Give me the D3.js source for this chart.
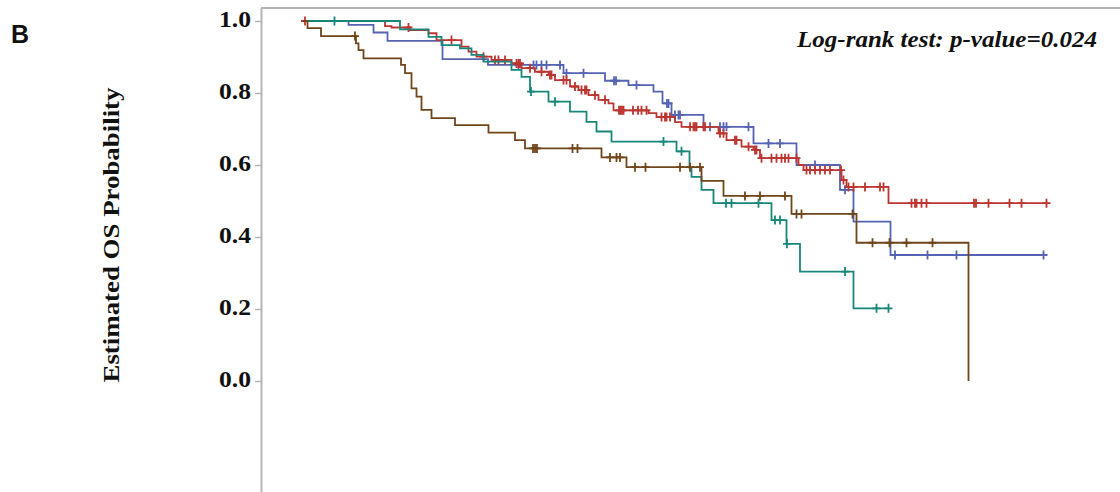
<!DOCTYPE html>
<html>
<head>
<meta charset="utf-8">
<script src="https://cdn.jsdelivr.net/npm/d3@7"></script>
<style>
  body { margin: 0; background: #fff; }
  svg { display: block; }
</style>
</head>
<body>
<svg id="drawing_region"></svg>
<script>
// groups (in drawing order)
const groups = ['group1', 'group2', 'group3', 'group4'];

// event times (months) and KM estimate just after each event
const times1 = [9.1, 14.1, 16.9, 27.9, 37.0, 52.1, 60.4, 65.1, 70.1, 71.9, 73.7, 80.1, 90.1, 98.7, 107.4, 110.1, 117.5];
const surv1  = [0.989, 0.968, 0.945, 0.894, 0.878, 0.855, 0.834, 0.822, 0.804, 0.771, 0.739, 0.706, 0.660, 0.600, 0.531, 0.4425, 0.35];
const cens1  = [43.1, 46.1, 46.7, 47.7, 48.7, 51.4, 52.7, 56.1, 62.2, 62.6, 66.7, 72.8, 73.1, 74.4, 75.1, 75.4, 81.4, 83.4, 84.1, 84.7, 89.1, 93.1, 95.4, 102.4, 108.4, 118.4, 124.9, 130.7, 148.1];

const times2 = [16.4, 17.7, 21.4, 25.1, 26.7, 31.7, 33.1, 34.7, 37.7, 41.7, 43.7, 46.4, 49.1, 50.4, 53.4, 55.1, 57.1, 59.1, 61.1, 62.1, 69.1, 70.7, 74.4, 75.7, 83.1, 84.7, 87.7, 90.1, 91.4, 99.1, 100.1, 107.7, 108.7, 117.1];
const surv2  = [0.986, 0.982, 0.975, 0.966, 0.947, 0.929, 0.915, 0.901, 0.892, 0.882, 0.869, 0.859, 0.850, 0.836, 0.818, 0.808, 0.794, 0.781, 0.771, 0.752, 0.744, 0.733, 0.719, 0.706, 0.688, 0.669, 0.651, 0.642, 0.619, 0.600, 0.586, 0.558, 0.539, 0.494];
const cens2  = [0.4, 21.1, 29.7, 36.1, 38.4, 39.1, 40.4, 42.7, 43.1, 43.4, 45.4, 47.7, 49.4, 49.7, 52.1, 52.7, 54.4, 55.7, 56.4, 56.7, 58.4, 60.4, 63.2, 63.5, 63.8, 64.1, 66.0, 67.0, 67.7, 68.7, 71.7, 72.4, 72.7, 73.4, 77.4, 78.1, 78.4, 78.7, 80.1, 80.4, 83.4, 84.1, 86.4, 86.7, 89.1, 90.4, 90.7, 91.7, 93.7, 94.7, 95.7, 96.4, 97.1, 98.7, 100.7, 101.4, 102.4, 103.4, 104.4, 105.4, 107.6, 108.1, 109.1, 110.1, 112.4, 115.4, 116.1, 121.7, 122.4, 122.7, 123.7, 124.7, 134.2, 134.6, 137.1, 141.3, 143.7, 148.7];

const times3 = [19.4, 25.1, 27.7, 31.4, 33.7, 36.1, 41.7, 43.7, 45.4, 49.1, 53.4, 56.7, 58.7, 61.7, 74.7, 77.3, 77.7, 79.7, 82.1, 93.7, 96.7, 99.4, 110.1];
const surv3  = [0.977, 0.956, 0.933, 0.924, 0.906, 0.887, 0.864, 0.845, 0.804, 0.776, 0.748, 0.720, 0.693, 0.665, 0.638, 0.592, 0.567, 0.531, 0.494, 0.447, 0.381, 0.304, 0.202];
const cens3  = [6.3, 45.6, 50.4, 72.1, 75.7, 84.6, 85.7, 91.1, 94.4, 95.4, 96.8, 108.4, 114.7, 117.1];

const times4 = [0.9, 3.6, 10.6, 11.1, 12.1, 19.6, 20.4, 21.7, 22.7, 23.7, 25.7, 30.4, 37.1, 42.4, 44.4, 59.7, 64.7, 79.7, 84.1, 97.7, 110.7, 133.1];
const surv4  = [0.980, 0.958, 0.938, 0.919, 0.896, 0.878, 0.855, 0.813, 0.790, 0.753, 0.730, 0.711, 0.690, 0.669, 0.646, 0.621, 0.594, 0.556, 0.514, 0.464, 0.384, 0];
const cens4  = [10.4, 46.0, 46.4, 46.8, 53.9, 54.9, 61.4, 62.7, 63.4, 66.4, 68.5, 75.4, 77.4, 79.4, 88.4, 91.4, 96.4, 98.7, 99.7, 109.9, 113.9, 117.3, 120.7, 125.9];

const yTicks = [0.0, 0.2, 0.4, 0.6, 0.8, 1.0];
const pText = 'Log-rank test: p-value=0.024';

const colors = {
  group1: '#5463b3',
  group2: '#bc3530',
  group3: '#18877a',
  group4: '#704519'
};

class KMChart {
  constructor(config, data) {
    this.config = config;
    this.data = data;
    this.init();
  }

  init() {
    let self = this;
    self.svg = d3.select(self.config.parent)
      .attr('width', self.config.width)
      .attr('height', self.config.height);

    // y: 0 -> 381px, 1 -> 21px; axis runs from the top frame down past the picture edge
    self.yscale = d3.scaleLinear().domain([-0.3083, 1.0361]).range([492, 8]);
    self.xscale = d3.scaleLinear().domain([0, 150]).range([303, 1053]);

    self.line = d3.line()
      .x(d => self.xscale(d[0]))
      .y(d => self.yscale(d[1]))
      .curve(d3.curveStepAfter);

    self.render();
  }

  survAt(g, t) {
    const i = d3.bisectRight(g.times, t) - 1;
    return i < 0 ? 1 : g.surv[i];
  }

  render() {
    let self = this;
    const serif = '"Liberation Serif", "Times New Roman", serif';

    // top frame line
    self.svg.append('line')
      .attr('x1', 261).attr('x2', self.config.width)
      .attr('y1', 8).attr('y2', 8)
      .attr('stroke', '#b5b5b5').attr('stroke-width', 2);

    const yaxis = d3.axisLeft(self.yscale)
      .tickValues(yTicks)
      .tickFormat(d3.format('.1f'))
      .tickSize(6)
      .tickPadding(4)
      .tickSizeOuter(0);

    const ag = self.svg.append('g')
      .attr('transform', 'translate(261,0)')
      .call(yaxis);
    ag.select('.domain').attr('stroke', '#b5b5b5').attr('stroke-width', 2);
    ag.selectAll('.tick line').attr('stroke', '#b5b5b5').attr('stroke-width', 1.5);
    ag.selectAll('.tick text')
      .attr('font-family', serif)
      .attr('font-weight', 'bold')
      .attr('font-size', 23)
      .attr('textLength', 32)
      .attr('lengthAdjust', 'spacingAndGlyphs')
      .attr('dy', '0.22em')
      .attr('fill', '#111');

    // curves
    self.data.forEach(g => {
      const last = Math.max(d3.max(g.times), d3.max(g.cens));
      const pts = [[0, 1]];
      g.times.forEach((t, i) => pts.push([t, g.surv[i]]));
      if (last > d3.max(g.times)) pts.push([last, g.surv[g.surv.length - 1]]);

      self.svg.append('path')
        .datum(pts)
        .attr('d', self.line)
        .attr('fill', 'none')
        .attr('stroke', colors[g.name])
        .attr('stroke-width', 1.8);

      self.svg.append('g')
        .selectAll('path')
        .data(g.cens)
        .join('path')
        .attr('d', t => {
          const x = self.xscale(t), y = self.yscale(self.survAt(g, t));
          return `M${x},${y - 4.5}V${y + 4.5}M${x - 4},${y}H${x + 4}`;
        })
        .attr('stroke', colors[g.name])
        .attr('stroke-width', 1.8)
        .attr('fill', 'none');
    });

    // texts
    self.svg.append('text')
      .attr('x', 797).attr('y', 47)
      .attr('font-family', serif)
      .attr('font-weight', 'bold')
      .attr('font-style', 'italic')
      .attr('font-size', 23)
      .attr('textLength', 300)
      .attr('lengthAdjust', 'spacingAndGlyphs')
      .attr('fill', '#111')
      .text(pText);

    self.svg.append('text')
      .attr('transform', 'translate(119,235) rotate(-90)')
      .attr('text-anchor', 'middle')
      .attr('font-family', serif)
      .attr('font-weight', 'bold')
      .attr('font-size', 23)
      .attr('textLength', 295)
      .attr('lengthAdjust', 'spacingAndGlyphs')
      .attr('fill', '#111')
      .text('Estimated OS Probability');

    self.svg.append('text')
      .attr('x', 11).attr('y', 43)
      .attr('font-family', '"Liberation Sans", Arial, sans-serif')
      .attr('font-weight', 'bold')
      .attr('font-size', 25)
      .attr('fill', '#111')
      .text('B');
  }
}

const data = [
  { name: 'group1', times: times1, surv: surv1, cens: cens1 },
  { name: 'group2', times: times2, surv: surv2, cens: cens2 },
  { name: 'group3', times: times3, surv: surv3, cens: cens3 },
  { name: 'group4', times: times4, surv: surv4, cens: cens4 }
];

const config = {
  parent: '#drawing_region',
  width: 1120,
  height: 492
};
const chart = new KMChart(config, data);
</script>
</body>
</html>
